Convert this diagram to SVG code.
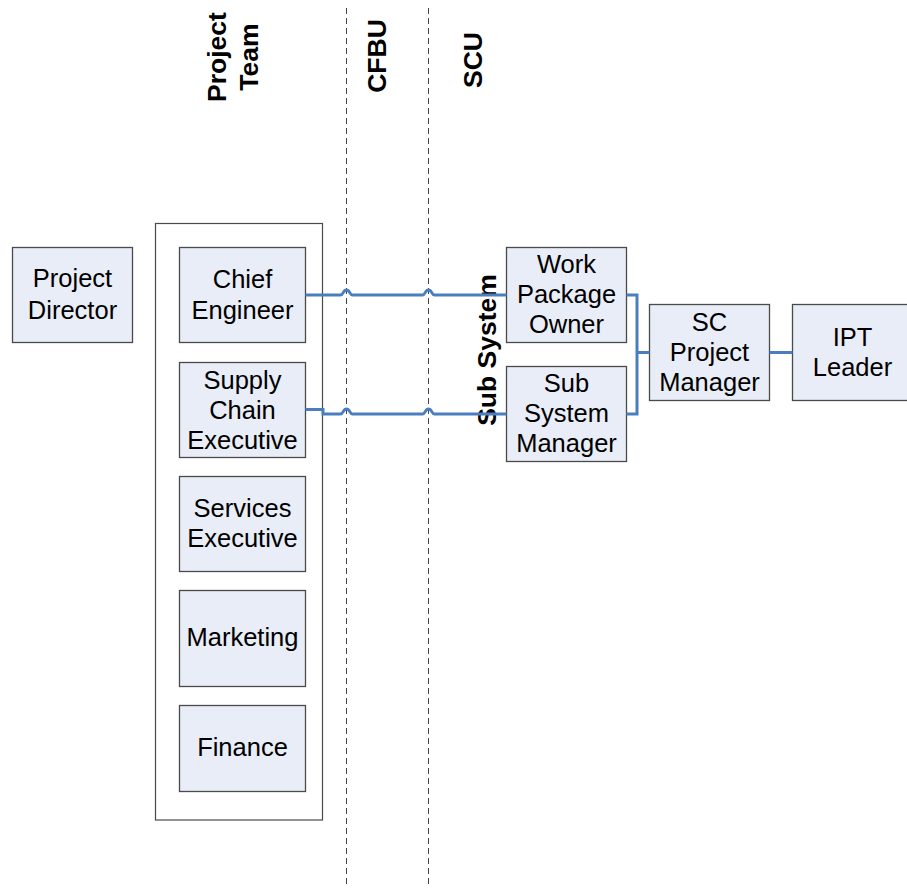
<svg xmlns="http://www.w3.org/2000/svg" width="907" height="888" viewBox="0 0 907 888">
<style>
.box{fill:#e8edf7;stroke:#4a4a4a;stroke-width:1.3}
.cont{fill:#ffffff;stroke:#4a4a4a;stroke-width:1.2}
.lane{stroke:#444;stroke-width:1;stroke-dasharray:6,4;fill:none}
.t{font-family:"Liberation Sans",Arial,sans-serif;font-size:25.5px;fill:#000;text-anchor:middle}
.h{font-family:"Liberation Sans",Arial,sans-serif;font-size:26.5px;font-weight:bold;fill:#000;text-anchor:middle}
.c{fill:none;stroke:#4a7ebf;stroke-width:3}
</style>
<rect width="907" height="888" fill="#ffffff"/>
<g id="lanes">
<line class="lane" x1="346.5" y1="8" x2="346.5" y2="888"/>
<line class="lane" x1="428.5" y1="8" x2="428.5" y2="888"/>
</g>
<g id="headers">
<text class="h" transform="translate(226,57) rotate(-90)">Project</text>
<text class="h" transform="translate(258,57) rotate(-90)">Team</text>
<text class="h" transform="translate(386,56) rotate(-90)">CFBU</text>
<text class="h" transform="translate(482,60) rotate(-90)">SCU</text>
</g>
<g id="project-team">
<rect class="cont" x="155.5" y="223.5" width="167" height="596.5"/>
</g>
<g id="sub-system-label">
<text class="h" transform="translate(496,350) rotate(-90)">Sub System</text>
</g>
<g id="project-director">
<rect class="box" x="12.5" y="247.5" width="120" height="95"/>
<text class="t" x="72.5" y="287">Project</text>
<text class="t" x="72.5" y="319">Director</text>
</g>
<g id="chief-engineer">
<rect class="box" x="179.5" y="247.5" width="126" height="95"/>
<text class="t" x="242.5" y="288">Chief</text>
<text class="t" x="242.5" y="319">Engineer</text>
</g>
<g id="supply-chain-executive">
<rect class="box" x="179.5" y="362.5" width="126" height="95"/>
<text class="t" x="242.5" y="389">Supply</text>
<text class="t" x="242.5" y="419">Chain</text>
<text class="t" x="242.5" y="449">Executive</text>
</g>
<g id="services-executive">
<rect class="box" x="179.5" y="476.5" width="126" height="95"/>
<text class="t" x="242.5" y="517">Services</text>
<text class="t" x="242.5" y="547">Executive</text>
</g>
<g id="marketing">
<rect class="box" x="179.5" y="590.5" width="126" height="96"/>
<text class="t" x="242.5" y="646">Marketing</text>
</g>
<g id="finance">
<rect class="box" x="179.5" y="705.5" width="126" height="86"/>
<text class="t" x="242.5" y="756">Finance</text>
</g>
<g id="work-package-owner">
<rect class="box" x="506.5" y="247.5" width="120" height="95"/>
<text class="t" x="566.5" y="273">Work</text>
<text class="t" x="566.5" y="303">Package</text>
<text class="t" x="566.5" y="333">Owner</text>
</g>
<g id="sub-system-manager">
<rect class="box" x="506.5" y="366.5" width="120" height="95"/>
<text class="t" x="566.5" y="392">Sub</text>
<text class="t" x="566.5" y="422">System</text>
<text class="t" x="566.5" y="452">Manager</text>
</g>
<g id="sc-project-manager">
<rect class="box" x="649.5" y="304.5" width="120" height="96"/>
<text class="t" x="709.5" y="331">SC</text>
<text class="t" x="709.5" y="361">Project</text>
<text class="t" x="709.5" y="391">Manager</text>
</g>
<g id="ipt-leader">
<rect class="box" x="792.5" y="304.5" width="120" height="96"/>
<text class="t" x="852.5" y="346">IPT</text>
<text class="t" x="852.5" y="376">Leader</text>
</g>
<g id="connectors">
<path class="c" d="M305.5 295 H340.5 C343.5 295 343 290 346.5 290 C350 290 349.5 295 352.5 295 H422.5 C425.5 295 425 290 428.5 290 C432 290 431.5 295 434.5 295 H506.5"/>
<path class="c" d="M305.5 409.5 H323 V414 H340.5 C343.5 414 343 409 346.5 409 C350 409 349.5 414 352.5 414 H422.5 C425.5 414 425 409 428.5 409 C432 409 431.5 414 434.5 414 H506.5"/>
<path class="c" d="M626.5 295 H637 V414 H626.5"/>
<path class="c" d="M637 352.5 H649.5"/>
<path class="c" d="M769.5 352.5 H792.5"/>
</g>
</svg>
